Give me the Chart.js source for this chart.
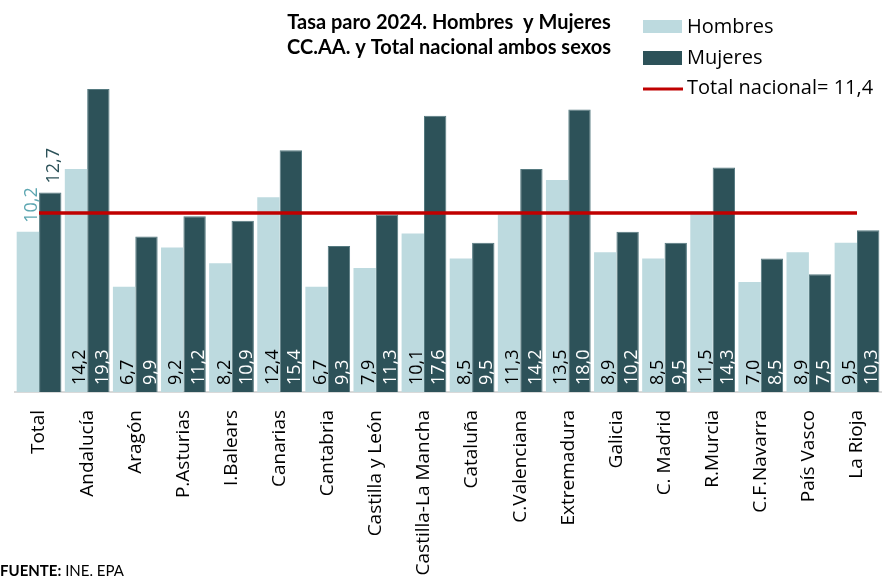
<!DOCTYPE html>
<html>
<head>
<meta charset="utf-8">
<script src="https://cdn.jsdelivr.net/npm/chart.js@4.4.1/dist/chart.umd.min.js"></script>
<style>
  body { margin: 0; background: #fff; }
  #grafico { display: block; }
</style>
</head>
<body>
<canvas id="grafico" width="890" height="580"></canvas>
<script>
// datos tasa de paro 2024 (INE, EPA)
const categorias = ["Total", "Andalucía", "Aragón", "P.Asturias", "I.Balears", "Canarias", "Cantabria",
  "Castilla y León", "Castilla-La Mancha", "Cataluña", "C.Valenciana", "Extremadura", "Galicia",
  "C. Madrid", "R.Murcia", "C.F.Navarra", "País Vasco", "La Rioja"];
const hombres = [10.2, 14.2, 6.7, 9.2, 8.2, 12.4, 6.7, 7.9, 10.1, 8.5, 11.3, 13.5, 8.9, 8.5, 11.5, 7.0, 8.9, 9.5];
const mujeres = [12.7, 19.3, 9.9, 11.2, 10.9, 15.4, 9.3, 11.3, 17.6, 9.5, 14.2, 18.0, 10.2, 9.5, 14.3, 8.5, 7.5, 10.3];
const totalNacional = [11.4, 11.4, 11.4, 11.4, 11.4, 11.4, 11.4, 11.4, 11.4, 11.4, 11.4, 11.4, 11.4, 11.4, 11.4, 11.4, 11.4, 11.4];
const etiquetaTotal = "Total nacional= 11,4";

const colorHombres = "#bddadf";
const colorMujeres = "#2d5259";
const colorLinea = "#c00000";

function formato(v) {
  return v.toFixed(1).replace(".", ",");
}

// etiquetas de valor giradas dentro / encima de las barras
const etiquetas = {
  id: "etiquetas",
  afterDatasetsDraw(chart) {
    const ctx = chart.ctx;
    ctx.save();
    ctx.font = "18px 'Open Sans'";
    ctx.textAlign = "left";
    ctx.textBaseline = "alphabetic";
    [0, 1].forEach((di) => {
      const meta = chart.getDatasetMeta(di);
      const valores = chart.data.datasets[di].data;
      meta.data.forEach((bar, i) => {
        const p = bar.getProps(["x", "y", "base", "width"], true);
        const bx = p.x + p.width / 2 - 2;
        let by;
        if (i == 0) {
          by = p.y - 9;
          ctx.fillStyle = di == 0 ? "#5ca6b1" : colorMujeres;
        } else {
          by = p.base - 7;
          ctx.fillStyle = di == 0 ? "#000" : "#fff";
        }
        ctx.save();
        ctx.translate(bx, by);
        ctx.rotate(-Math.PI / 2);
        ctx.fillText(formato(valores[i]), 0, 0);
        ctx.restore();
      });
    });
    ctx.restore();
  }
};

// leyenda a la derecha y fuente abajo
const leyenda = {
  id: "leyenda",
  afterDraw(chart) {
    const ctx = chart.ctx;
    const ds = chart.data.datasets;
    ctx.save();
    ctx.font = "20px 'Open Sans'";
    ctx.textBaseline = "middle";
    ctx.fillStyle = "#000";

    ctx.fillStyle = ds[0].backgroundColor;
    ctx.fillRect(643, 20, 39, 13);
    ctx.fillStyle = "#000";
    ctx.fillText(ds[0].label, 687, 27);

    ctx.fillStyle = ds[1].backgroundColor;
    ctx.fillRect(643, 51, 39, 14);
    ctx.fillStyle = "#000";
    ctx.fillText(ds[1].label, 687, 58);

    ctx.strokeStyle = ds[2].borderColor;
    ctx.lineWidth = 3;
    ctx.beginPath();
    ctx.moveTo(643, 89);
    ctx.lineTo(683, 89);
    ctx.stroke();
    ctx.fillText(ds[2].label, 687, 88);

    ctx.textBaseline = "alphabetic";
    ctx.font = "bold 15px Lato";
    ctx.fillText("FUENTE:", 0, 576);
    const w = ctx.measureText("FUENTE:").width;
    ctx.font = "15px Lato";
    ctx.fillText(" INE. EPA", w, 576);
    ctx.restore();
  }
};

new Chart(document.getElementById("grafico"), {
  type: "bar",
  data: {
    labels: categorias,
    datasets: [
      {
        label: "Hombres",
        data: hombres,
        backgroundColor: colorHombres,
        borderWidth: 0,
        order: 1,
      },
      {
        label: "Mujeres",
        data: mujeres,
        backgroundColor: colorMujeres,
        borderColor: "#557a80",
        borderWidth: 1,
        order: 1,
      },
      {
        type: "line",
        label: etiquetaTotal,
        data: totalNacional,
        borderColor: colorLinea,
        borderWidth: 3.5,
        pointRadius: 0,
        fill: false,
        order: 0,
      },
    ],
  },
  options: {
    responsive: false,
    animation: false,
    datasets: {
      bar: { categoryPercentage: 0.93, barPercentage: 1.0 },
    },
    layout: { padding: { top: 0, left: 15, right: 7, bottom: 0 } },
    plugins: {
      legend: { display: false },
      tooltip: { enabled: false },
      title: {
        display: true,
        text: ["Tasa paro 2024. Hombres  y Mujeres", "CC.AA. y Total nacional ambos sexos"],
        color: "#000",
        font: { family: "Lato", size: 20, weight: "bold", lineHeight: 1.25 },
        padding: { top: 10, bottom: 18 },
      },
    },
    scales: {
      x: {
        grid: { display: false },
        border: { color: "#d9d9d9", width: 2 },
        ticks: {
          color: "#000",
          font: { family: "'Open Sans'", size: 19 },
          minRotation: 90,
          maxRotation: 90,
          padding: 10,
          autoSkip: false,
        },
        afterFit(axis) {
          axis.height = 188;
        },
      },
      y: {
        display: false,
        min: 0,
        max: 20,
      },
    },
  },
  plugins: [etiquetas, leyenda],
});
</script>
</body>
</html>
